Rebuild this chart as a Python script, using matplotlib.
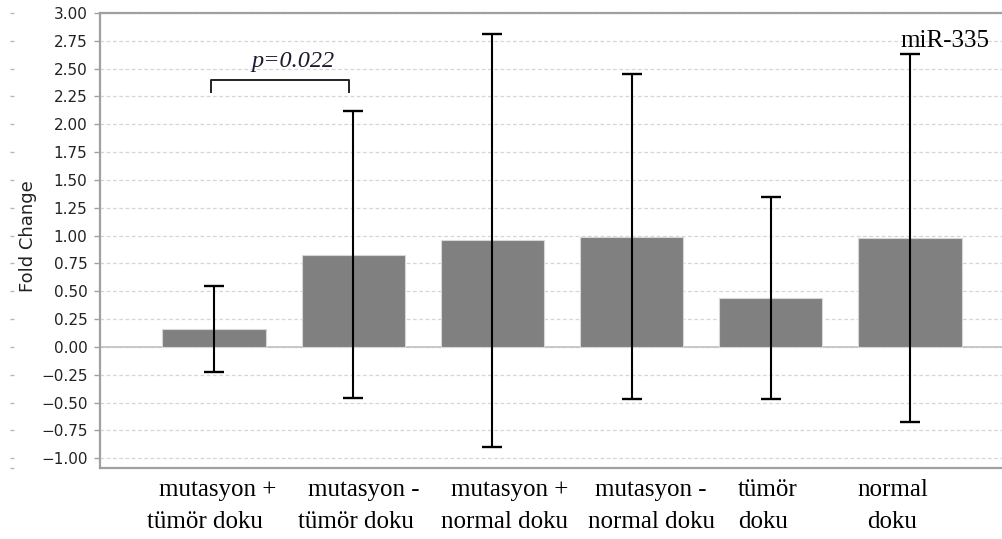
import matplotlib
matplotlib.use("Agg")
import matplotlib.pyplot as plt
import matplotlib.transforms as mtransforms
import numpy as np

# ---- data ----
categories = ["mutasyon +\ntümör doku", "mutasyon -\ntümör doku",
              "mutasyon +\nnormal doku", "mutasyon -\nnormal doku",
              "tümör\ndoku", "normal\ndoku"]
fold_change = [0.16, 0.83, 0.96, 0.99, 0.44, 0.98]
error = [0.385, 1.29, 1.855, 1.46, 0.905, 1.655]
yticks = [-1.00, -0.75, -0.50, -0.25, 0.00, 0.25, 0.50, 0.75, 1.00,
          1.25, 1.50, 1.75, 2.00, 2.25, 2.50, 2.75, 3.00]
p_text = "p=0.022"
title_text = "miR-335"
ylabel_text = "Fold Change"

# ---- layout (pixel offsets of label lines relative to bar centres) ----
W, H = 1003, 539
px_per_x = 139.2
line_offsets = [(4, -9), (11, 3), (17, 12), (19, 20), (-4, -6), (-17, -18)]
line_align = ["center", "center", "center", "center", "left", "center"]

fig = plt.figure(figsize=(W / 100, H / 100), dpi=100)
ax = fig.add_axes([100 / W, 1 - 468 / H, 1 - 100 / W, (468 - 13) / H])

x = np.arange(len(categories))
ax.set_xlim((100 - 214) / px_per_x, (1003 - 214) / px_per_x)
ax.set_ylim(-1.087, 3.0)

# grid & zero line
ax.set_yticks(yticks)
ax.set_yticklabels([f"{v:.2f}".replace("-", "\u2212") for v in yticks],
                   fontsize=11, color="#222222", family="DejaVu Sans")
ax.yaxis.grid(True, linestyle=(0, (3, 2)), color="#d6d6d6", lw=0.9)
ax.set_axisbelow(True)
ax.axhline(0, color="#c4c4c4", lw=1.3, zorder=1)

ax.bar(x, fold_change, width=0.74, color="#808080", edgecolor="#d8d8d8",
       lw=0.8, zorder=2)
ax.errorbar(x, fold_change, yerr=error, fmt="none", ecolor="black",
            elinewidth=1.5, capsize=7.2, capthick=1.7, zorder=3)

# spines
for s in ["left", "bottom", "top"]:
    ax.spines[s].set_color("#a0a0a0")
    ax.spines[s].set_linewidth(1.6)
ax.spines["right"].set_visible(False)
ax.tick_params(axis="y", length=4, width=1, color="#a0a0a0", pad=5)
ax.tick_params(axis="x", length=0)
ax.set_xticks([])

ax.set_ylabel(ylabel_text, fontsize=13, color="#222222", family="DejaVu Sans")
ax.yaxis.set_label_coords((37 - 100) / (W - 100), 0.51)

# small marks at far left
trans_fy = mtransforms.blended_transform_factory(fig.transFigure, ax.transData)
ax.plot([12 / W] * len(yticks), yticks, ls="none", marker="_", ms=3,
        mew=1, color="#b8b8b8", transform=trans_fy, clip_on=False)
ax.plot([12 / W], [-1.087], ls="none", marker="_", ms=3, mew=1,
        color="#b8b8b8", transform=trans_fy, clip_on=False)

# category labels (two lines each)
trans_lbl = mtransforms.blended_transform_factory(ax.transData, fig.transFigure)
for i, lab in enumerate(categories):
    lines = lab.split("\n")
    for j, (ln, base_y) in enumerate(zip(lines, [496, 528])):
        dx = line_offsets[i][j] / px_per_x
        ha = line_align[i]
        xpos = x[i] + dx
        if ha == "left":
            xpos = x[i] + (737 - 770) / px_per_x
        ax.text(xpos, 1 - base_y / H, ln, ha=ha, va="baseline",
                fontsize=18, family="Liberation Serif", color="black",
                transform=trans_lbl, clip_on=False)

# significance bracket
y_br, y_br_low = 2.40, 2.29
ax.plot([x[0] - 0.02, x[0] - 0.02, x[1] - 0.03, x[1] - 0.03],
        [y_br_low, y_br, y_br, y_br_low], color="#222222", lw=1.4, zorder=4)
ax.text(0.57, 2.515, p_text, ha="center", va="baseline", fontsize=17.5,
        family="Liberation Serif", style="italic", color="#1a1a2e")

# title text inside plot
ax.text(4.93, 2.695, title_text, ha="left", va="baseline", fontsize=18,
        family="Liberation Serif", color="black")

fig.savefig("out.png", dpi=100)
